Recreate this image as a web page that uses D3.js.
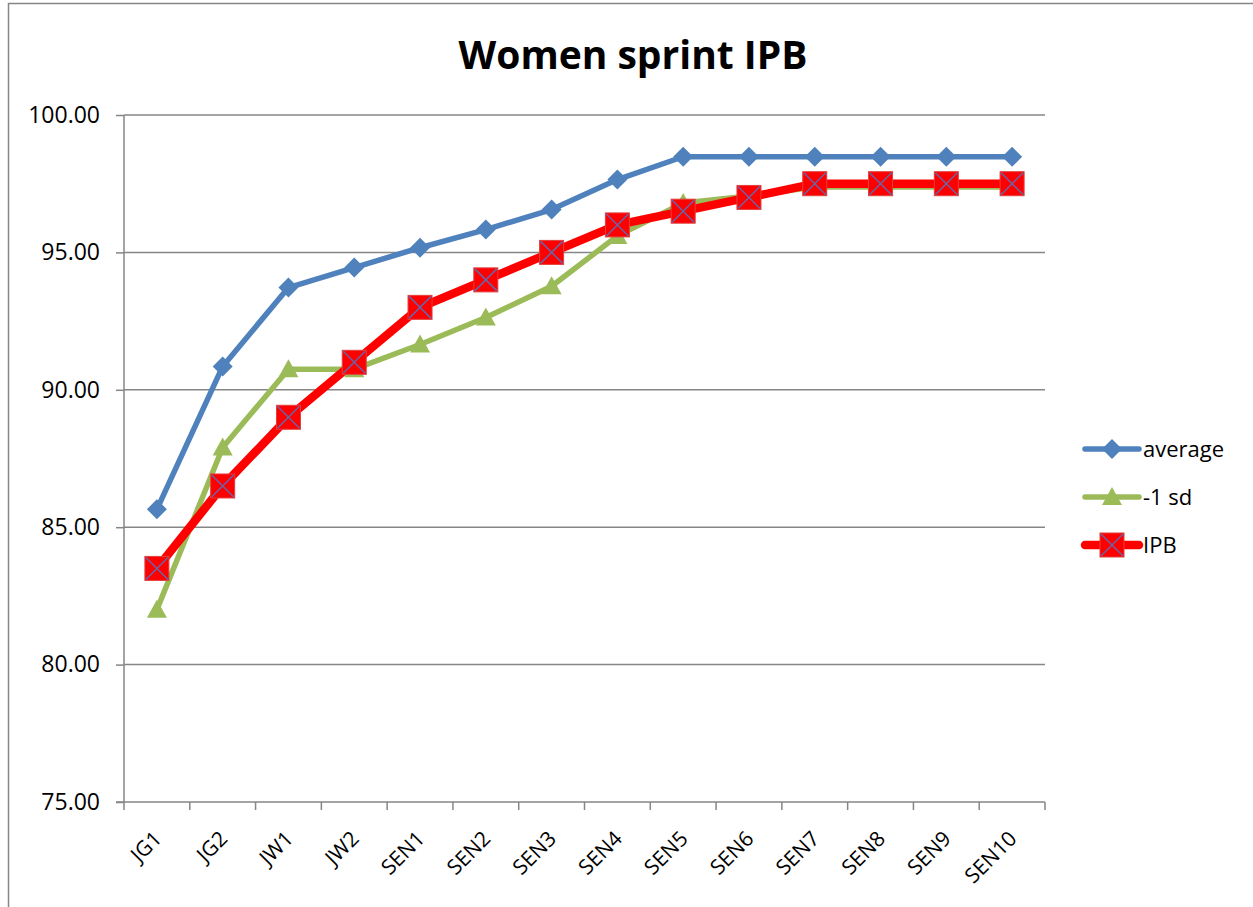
<!DOCTYPE html>
<html lang="en">
<head>
    <meta charset="UTF-8">
    <title>Women sprint IPB</title>
    <script src="https://cdnjs.cloudflare.com/ajax/libs/d3/7.8.5/d3.min.js"></script>
    <style>
        body {
            margin: 0;
            overflow: hidden;
            background: #fff;
            font-family: "Open Sans", "Noto Sans", sans-serif;
        }
    </style>
</head>
<body>
    <script>
        const width = 1253;
        const height = 907;

        // Chart data
        const categories = ['JG1', 'JG2', 'JW1', 'JW2', 'SEN1', 'SEN2', 'SEN3', 'SEN4',
                            'SEN5', 'SEN6', 'SEN7', 'SEN8', 'SEN9', 'SEN10'];
        const average = [85.65, 90.85, 93.72, 94.45, 95.17, 95.83, 96.56, 97.65,
                         98.48, 98.48, 98.48, 98.48, 98.48, 98.48];
        const minusSd = [82.0, 87.9, 90.75, 90.75, 91.65, 92.63, 93.77, 95.6,
                         96.8, 97.05, 97.38, 97.38, 97.38, 97.38];
        const ipb = [83.5, 86.5, 89, 91, 93, 94, 95, 96,
                     96.5, 97, 97.5, 97.5, 97.5, 97.5];
        const yTicks = [75, 80, 85, 90, 95, 100];

        const series = [
            { name: 'average', values: average, color: '#4F81BD', width: 5.5, marker: 'diamond' },
            { name: '-1 sd', values: minusSd, color: '#9BBB59', width: 5.5, marker: 'triangle' },
            { name: 'IPB', values: ipb, color: '#FF0000', width: 8.5, marker: 'xsquare' }
        ];

        const plot = { left: 124, right: 1045, top: 115, bottom: 802 };

        const svg = d3.select('body')
            .append('svg')
            .attr('width', width)
            .attr('height', height);

        // outer chart border (runs off right/bottom edge)
        svg.append('rect')
            .attr('x', 8.5).attr('y', 3.5)
            .attr('width', width + 20).attr('height', height + 20)
            .attr('fill', 'none')
            .attr('stroke', '#868686')
            .attr('stroke-width', 1.5);

        const x = d3.scaleBand()
            .domain(categories)
            .range([plot.left, plot.right]);

        const y = d3.scaleLinear()
            .domain([75, 100])
            .range([plot.bottom, plot.top]);

        // Title
        svg.append('text')
            .attr('x', 633)
            .attr('y', 69)
            .attr('text-anchor', 'middle')
            .attr('font-size', 39)
            .attr('font-weight', 'bold')
            .text('Women sprint IPB');

        // Gridlines
        svg.append('g')
            .selectAll('line')
            .data(yTicks.filter(d => d !== 75))
            .enter()
            .append('line')
            .attr('x1', plot.left)
            .attr('x2', plot.right)
            .attr('y1', d => y(d))
            .attr('y2', d => y(d))
            .attr('stroke', '#868686')
            .attr('stroke-width', 1.5);

        // Y axis
        const yAxis = svg.append('g')
            .attr('transform', `translate(${plot.left},0)`)
            .call(d3.axisLeft(y).tickValues(yTicks).tickFormat(d3.format('.2f'))
                .tickSize(8).tickPadding(16));
        yAxis.select('.domain').attr('stroke', '#868686').attr('stroke-width', 1.5)
            .attr('d', `M0,${plot.bottom}V${plot.top}`);
        yAxis.selectAll('.tick line').attr('stroke', '#868686').attr('stroke-width', 1.5);
        yAxis.selectAll('.tick text')
            .attr('font-size', 23)
            .attr('font-family', '"Open Sans", sans-serif')
            .attr('fill', '#000');

        // X axis
        const xAxisG = svg.append('g');
        xAxisG.append('line')
            .attr('x1', plot.left - 8).attr('x2', plot.right)
            .attr('y1', plot.bottom).attr('y2', plot.bottom)
            .attr('stroke', '#868686').attr('stroke-width', 1.5);
        const boundaries = categories.map(c => x(c)).concat([plot.right]);
        xAxisG.selectAll('.xtick')
            .data(boundaries)
            .enter()
            .append('line')
            .attr('x1', d => d).attr('x2', d => d)
            .attr('y1', plot.bottom).attr('y2', plot.bottom + 8)
            .attr('stroke', '#868686').attr('stroke-width', 1.5);
        xAxisG.selectAll('.xlabel')
            .data(categories)
            .enter()
            .append('text')
            .attr('transform', d => `translate(${x(d) + x.bandwidth() / 2 + 6},${plot.bottom + 38}) rotate(-45)`)
            .attr('text-anchor', 'end')
            .attr('font-size', 21)
            .text(d => d);

        // Markers
        function drawMarker(g, type, cx, cy, color) {
            if (type === 'diamond') {
                g.append('path')
                    .attr('d', `M${cx},${cy - 10}L${cx + 10},${cy}L${cx},${cy + 10}L${cx - 10},${cy}Z`)
                    .attr('fill', color);
            } else if (type === 'triangle') {
                g.append('path')
                    .attr('d', `M${cx},${cy - 10}L${cx + 10},${cy + 8}L${cx - 10},${cy + 8}Z`)
                    .attr('fill', color);
            } else {
                g.append('rect')
                    .attr('x', cx - 12).attr('y', cy - 12)
                    .attr('width', 24).attr('height', 24)
                    .attr('fill', color)
                    .attr('stroke', '#E0403F').attr('stroke-width', 1);
                g.append('path')
                    .attr('d', `M${cx - 11},${cy - 11}L${cx + 11},${cy + 11}M${cx + 11},${cy - 11}L${cx - 11},${cy + 11}`)
                    .attr('stroke', '#6B63A8').attr('stroke-width', 1.5);
            }
        }

        const line = d3.line()
            .x((d, i) => x(categories[i]) + x.bandwidth() / 2)
            .y(d => y(d));

        series.forEach(s => {
            const g = svg.append('g');
            g.append('path')
                .datum(s.values)
                .attr('d', line)
                .attr('fill', 'none')
                .attr('stroke', s.color)
                .attr('stroke-width', s.width)
                .attr('stroke-linejoin', 'round');
            s.values.forEach((v, i) => {
                drawMarker(g, s.marker, x(categories[i]) + x.bandwidth() / 2, y(v), s.color);
            });
        });

        // Legend
        const legend = svg.append('g');
        series.forEach((s, i) => {
            const ly = 449 + i * 48;
            const lg = legend.append('g');
            lg.append('line')
                .attr('x1', 1085).attr('x2', 1139)
                .attr('y1', ly).attr('y2', ly)
                .attr('stroke', s.color)
                .attr('stroke-width', s.width)
                .attr('stroke-linecap', 'round');
            drawMarker(lg, s.marker, 1112, ly, s.color);
            lg.append('text')
                .attr('x', 1143)
                .attr('y', ly)
                .attr('dy', '0.35em')
                .attr('font-size', 22)
                .text(s.name);
        });
    </script>
</body>
</html>
